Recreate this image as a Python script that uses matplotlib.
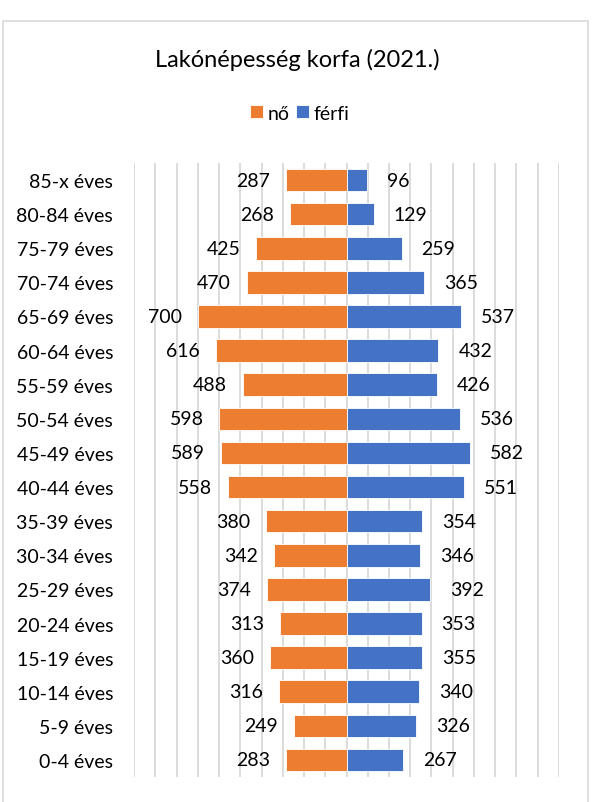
import matplotlib
matplotlib.use('Agg')
import matplotlib.pyplot as plt
from matplotlib.patches import Rectangle
import numpy as np

plt.rcParams['font.family'] = ['Lato', 'DejaVu Sans']

# Korosztályok, alulról felfelé
age_groups = ['0-4 éves', '5-9 éves', '10-14 éves', '15-19 éves', '20-24 éves',
              '25-29 éves', '30-34 éves', '35-39 éves', '40-44 éves', '45-49 éves',
              '50-54 éves', '55-59 éves', '60-64 éves', '65-69 éves', '70-74 éves',
              '75-79 éves', '80-84 éves', '85-x éves']
female = [283, 249, 316, 360, 313, 374, 342, 380, 558, 589,
          598, 488, 616, 700, 470, 425, 268, 287]
male = [267, 326, 340, 355, 353, 392, 346, 354, 551, 582,
        536, 426, 432, 537, 365, 259, 129, 96]

ORANGE = '#ED7D31'
BLUE = '#4472C4'
GRID = '#D9D9D9'

fig = plt.figure(figsize=(6.01, 8.03), dpi=100)
ax = fig.add_axes([0.2230, 0.0311, 0.7071, 0.7647])

# keret a diagram körül
fig.patches.append(Rectangle((2.7 / 601, -0.05), (588.3 - 2.7) / 601, 1.05 - 21.7 / 803,
                             transform=fig.transFigure, facecolor='none',
                             edgecolor=GRID, linewidth=1.2))

y = np.arange(len(age_groups))
bars_f = ax.barh(y, -np.array(female), height=0.66, color=ORANGE,
                 edgecolor='white', linewidth=0.6, label='nő', zorder=3)
bars_m = ax.barh(y, male, height=0.66, color=BLUE,
                 edgecolor='white', linewidth=0.6, label='férfi', zorder=3)

for yi, v in zip(y, female):
    ax.annotate(str(v), (-v, yi), xytext=(-11.5, 0), textcoords='offset points',
                ha='right', va='center', fontsize=14, color='black')
for yi, v in zip(y, male):
    ax.annotate(str(v), (v, yi), xytext=(14.4, 0), textcoords='offset points',
                ha='left', va='center', fontsize=14, color='black')

ax.set_xlim(-1000, 1000)
ax.set_ylim(-0.5, len(age_groups) - 0.5)
ax.set_xticks(np.arange(-1000, 1001, 100))
ax.set_xticklabels([])
ax.set_yticks(y)
ax.set_yticklabels(age_groups, fontsize=14)
ax.tick_params(axis='both', length=0)
ax.tick_params(axis='y', pad=15)
ax.grid(axis='x', color=GRID, linewidth=1.3, zorder=0)
ax.set_axisbelow(True)
for s in ax.spines.values():
    s.set_visible(False)

fig.text(297 / 601, 1 - 60 / 803, 'Lakónépesség korfa (2021.)',
         ha='center', va='center', fontsize=17)

fig.legend(handles=[bars_f, bars_m], loc='center', bbox_to_anchor=(300 / 601, 1 - 114 / 803),
           ncol=2, frameon=False, fontsize=14, handlelength=0.65, handleheight=0.65,
           handletextpad=0.25, columnspacing=0.35)

fig.savefig('out.png', dpi=100)
